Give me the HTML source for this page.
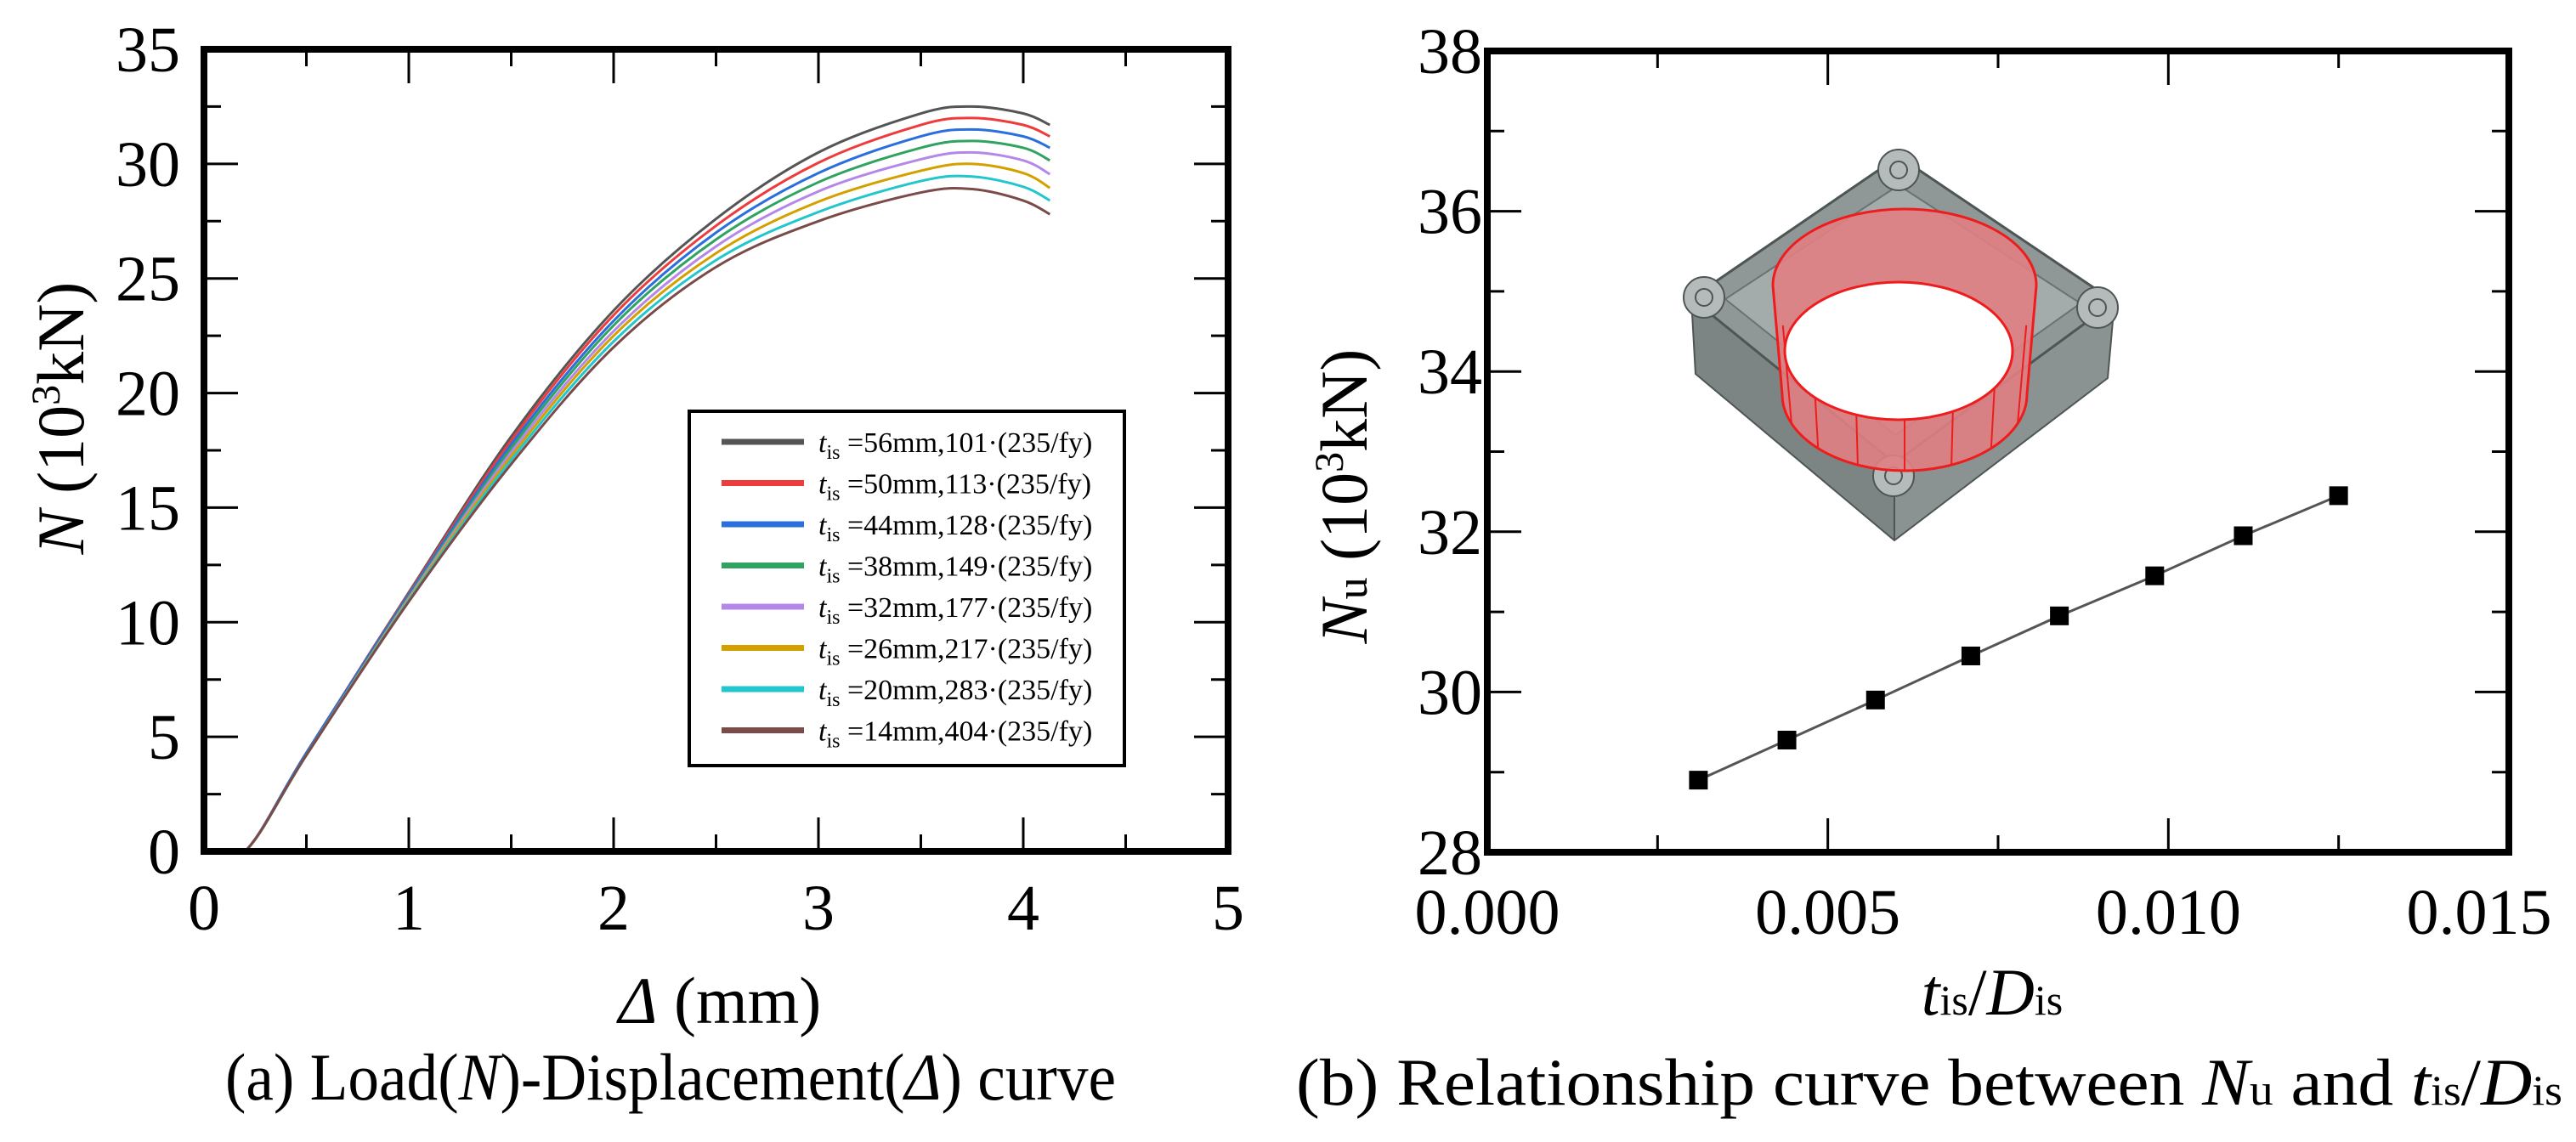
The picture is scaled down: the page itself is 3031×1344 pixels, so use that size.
<!DOCTYPE html>
<html><head><meta charset="utf-8"><style>
body{margin:0;background:#fff}
svg{display:block}
text{font-family:"Liberation Serif",serif;fill:#000}
</style></head><body>
<svg id="s" width="3031" height="1344" viewBox="0 0 3031 1344">
<g id="left"></g>
<g id="right"></g>
</svg>
<script>
// ---- Chart (a) data ----
const dispX = [0,0.2,0.5,1,1.5,2,2.5,3,3.5,3.75,4,4.13];
const s56 = [0,0,4.3,11.3,18.1,23.6,27.6,30.5,32.2,32.5,32.2,31.7];
const s50 = [0,0,4.3,11.25,17.93,23.4,27.3,30.05,31.7,32.0,31.7,31.2];
const s44 = [0,0,4.3,11.2,17.76,23.15,27.0,29.6,31.2,31.5,31.2,30.7];
const s38 = [0,0,4.2,11.1,17.59,22.95,26.7,29.2,30.7,31.0,30.7,30.15];
const s32 = [0,0,4.2,11.05,17.42,22.7,26.4,28.8,30.2,30.5,30.15,29.55];
const s26 = [0,0,4.2,11.0,17.25,22.5,26.1,28.35,29.7,30.0,29.6,28.95];
const s20 = [0,0,4.2,10.95,17.08,22.25,25.8,27.9,29.25,29.45,29.0,28.4];
const s14 = [0,0,4.2,10.9,16.9,22.0,25.5,27.5,28.75,28.9,28.4,27.8];
const seriesA = [s56,s50,s44,s38,s32,s26,s20,s14];
const colorsA = ["#555555","#ee3b3b","#2a6fdc","#2fa35f","#b487e8","#d4a000","#22c6cc","#7a4b48"];
const legendLabels = [["56","101"],["50","113"],["44","128"],["38","149"],["32","177"],["26","217"],["20","283"],["14","404"]];
const xTicksA = [0,1,2,3,4,5];
const yTicksA = [0,5,10,15,20,25,30,35];
// ---- Chart (b) data ----
const ratioX = [0.0031,0.0044,0.0057,0.0071,0.0084,0.0098,0.0111,0.0125];
const nuY = [28.9,29.4,29.9,30.45,30.95,31.45,31.95,32.45];
const xTicksB = ["0.000","0.005","0.010","0.015"];
const yTicksB = [28,30,32,34,36,38];

const NS="http://www.w3.org/2000/svg";
function mk(parent,tag,attrs){const e=document.createElementNS(NS,tag);for(const k in attrs)e.setAttribute(k,attrs[k]);parent.appendChild(e);return e;}

// axes A
const A={x0:240,x1:1445,y0:1002,y1:58};
const ax=v=>A.x0+(v-0)/5*(A.x1-A.x0);
const ay=v=>A.y0-(v/35)*(A.y0-A.y1);
const L=document.getElementById('left');
function smooth(pts){let d=`M${pts[0][0]},${pts[0][1]}`;for(let i=0;i<pts.length-1;i++){const p0=pts[Math.max(0,i-1)],p1=pts[i],p2=pts[i+1],p3=pts[Math.min(pts.length-1,i+2)];
 if(i===0){d+=` L${p2[0]},${p2[1]}`;continue;}
 const c1=[p1[0]+(p2[0]-p0[0])/6,p1[1]+(p2[1]-p0[1])/6],c2=[p2[0]-(p3[0]-p1[0])/6,p2[1]-(p3[1]-p1[1])/6];
 d+=` C${c1[0]},${c1[1]} ${c2[0]},${c2[1]} ${p2[0]},${p2[1]}`;}return d;}
seriesA.forEach((s,i)=>{const p=mk(L,'path',{d:smooth(dispX.map((x,j)=>[ax(x),ay(s[j])])),fill:'none',stroke:colorsA[i],'stroke-width':3});

});
// ticks A
for(let v=0;v<=5;v+=0.5){const len=(v%1===0)?40:20;mk(L,'line',{x1:ax(v),x2:ax(v),y1:A.y0,y2:A.y0-len,stroke:'#000','stroke-width':3});mk(L,'line',{x1:ax(v),x2:ax(v),y1:A.y1,y2:A.y1+len,stroke:'#000','stroke-width':3});}
for(let v=0;v<=35;v+=2.5){const len=(v%5===0)?40:20;mk(L,'line',{x1:A.x0,x2:A.x0+len,y1:ay(v),y2:ay(v),stroke:'#000','stroke-width':3});mk(L,'line',{x1:A.x1,x2:A.x1-len,y1:ay(v),y2:ay(v),stroke:'#000','stroke-width':3});}
const fa=mk(L,'rect',{x:A.x0,y:A.y1,width:A.x1-A.x0,height:A.y0-A.y1,fill:'none',stroke:'#000','stroke-width':8});

xTicksA.forEach(v=>{const t=mk(L,'text',{x:ax(v),y:1094,'font-size':76,'text-anchor':'middle'});t.textContent=v;
});
yTicksA.forEach(v=>{const t=mk(L,'text',{x:212,y:ay(v)+26,'font-size':76,'text-anchor':'end'});t.textContent=v;
});
// legend
const lg=mk(L,'g',{});
mk(lg,'rect',{x:811,y:484,width:512,height:417,fill:'#fff',stroke:'#000','stroke-width':4});
legendLabels.forEach((lab,i)=>{const y=520+i*48.5;
 const ln=mk(lg,'line',{x1:849,x2:946,y1:y,y2:y,stroke:colorsA[i],'stroke-width':7});
 
 const t=mk(lg,'text',{x:963,y:y+12,'font-size':34});
 t.innerHTML=`<tspan font-style="italic">t</tspan><tspan font-size="24" dy="8">is</tspan><tspan dy="-8"> =${lab[0]}mm,${lab[1]}·(235/fy)</tspan>`;
 });

// axes B
const B={x0:1750,x1:2952,y0:1003,y1:60};
const bx=v=>B.x0+v/0.015*(B.x1-B.x0);
const by=v=>B.y0-(v-28)/10*(B.y0-B.y1);
const R=document.getElementById('right');
for(let i=0;i<=6;i++){const v=i*0.0025,len=(i%2===0)?40:20;mk(R,'line',{x1:bx(v),x2:bx(v),y1:B.y0,y2:B.y0-len,stroke:'#000','stroke-width':3});mk(R,'line',{x1:bx(v),x2:bx(v),y1:B.y1,y2:B.y1+len,stroke:'#000','stroke-width':3});}
for(let v=28;v<=38;v+=1){const len=(v%2===0)?40:20;mk(R,'line',{x1:B.x0,x2:B.x0+len,y1:by(v),y2:by(v),stroke:'#000','stroke-width':3});mk(R,'line',{x1:B.x1,x2:B.x1-len,y1:by(v),y2:by(v),stroke:'#000','stroke-width':3});}
// inset model
const ins=mk(R,'g',{});
mk(ins,'polygon',{points:'1990,351 2229,545 2229,636 1995,440',fill:'#7c8484',stroke:'#4e5555','stroke-width':2,'stroke-linejoin':'round'});
mk(ins,'polygon',{points:'2488,355 2229,545 2229,636 2480,445',fill:'#8a9292',stroke:'#4e5555','stroke-width':2,'stroke-linejoin':'round'});
mk(ins,'polygon',{points:'2234,184 2488,355 2229,545 1990,351',fill:'#8f9797',stroke:'#4e5555','stroke-width':3,'stroke-linejoin':'round'});
mk(ins,'polygon',{points:'2234,218 2448,357 2230,512 2030,352',fill:'#a4abab',stroke:'#6a7272','stroke-width':2});
[[2234,200],[2005,350],[2468,362],[2228,560]].forEach(c=>{mk(ins,'circle',{cx:c[0],cy:c[1],r:24,fill:'#b5bbbb',stroke:'#4e5555','stroke-width':2});mk(ins,'circle',{cx:c[0],cy:c[1],r:10,fill:'none',stroke:'#4e5555','stroke-width':2});});
mk(ins,'path',{d:'M2086,336 A155,90 0 0 1 2396,336 L2385,464 A144,90 0 0 1 2097,464 Z',fill:'#e07f84',stroke:'#ee1c1c','stroke-width':3,'fill-opacity':0.9});
for(let k=1;k<8;k++){const t=Math.PI*k/8,x1=2241-155*Math.cos(t),y1=336+90*Math.sin(t)*0.2+40,x2=2241-144*Math.cos(t),y2=464+90*Math.sin(t);mk(ins,'line',{x1:x1,y1:y1,x2:x2,y2:y2,stroke:'#ee1c1c','stroke-width':2});}
mk(ins,'ellipse',{cx:2234,cy:413,rx:134,ry:81,fill:'#fff',stroke:'#ee1c1c','stroke-width':3});
// series B
const ln=mk(R,'polyline',{points:ratioX.map((x,i)=>bx(x)+','+by(nuY[i])).join(' '),fill:'none',stroke:'#555','stroke-width':3});

ratioX.forEach((x,i)=>{const r=mk(R,'rect',{x:bx(x)-11,y:by(nuY[i])-11,width:22,height:22,fill:'#000'});
});
const fb=mk(R,'rect',{x:B.x0,y:B.y1,width:B.x1-B.x0,height:B.y0-B.y1,fill:'none',stroke:'#000','stroke-width':8});

xTicksB.forEach(v=>{const t=mk(R,'text',{x:bx(+v)-(+v===0.015?35:0),y:1099,'font-size':76,'text-anchor':'middle'});t.textContent=v;
});
yTicksB.forEach(v=>{const t=mk(R,'text',{x:1744,y:by(v)+26,'font-size':76,'text-anchor':'end'});t.textContent=v;
});
</script>
<div style="position:absolute;left:0;top:0;width:3031px;height:1344px;pointer-events:none">
<svg width="3031" height="1344" style="position:absolute;left:0;top:0">
<text font-size="78" text-anchor="middle" transform="translate(98,492) rotate(-90)"><tspan font-style="italic">N</tspan> (10<tspan font-size="48" dy="-28">3</tspan><tspan dy="28">kN)</tspan></text>
<text x="847" y="1204" font-size="78" text-anchor="middle"><tspan font-style="italic">Δ</tspan> (mm)</text>
<text x="265" y="1294" font-size="78" textLength="1048" lengthAdjust="spacingAndGlyphs">(a) Load(<tspan font-style="italic">N</tspan>)-Displacement(<tspan font-style="italic">Δ</tspan>) curve</text>
<text font-size="78" text-anchor="middle" transform="translate(1608,584) rotate(-90)"><tspan font-style="italic">N</tspan><tspan font-size="52">u</tspan> (10<tspan font-size="48" dy="-28">3</tspan><tspan dy="28">kN)</tspan></text>
<text x="2344" y="1194" font-size="78" text-anchor="middle"><tspan font-style="italic">t</tspan><tspan font-size="50">is</tspan>/<tspan font-style="italic">D</tspan><tspan font-size="50">is</tspan></text>
<text x="1525" y="1300" font-size="78" textLength="1490" lengthAdjust="spacingAndGlyphs">(b) Relationship curve between <tspan font-style="italic">N</tspan><tspan font-size="52">u</tspan> and <tspan font-style="italic">t</tspan><tspan font-size="50">is</tspan>/<tspan font-style="italic">D</tspan><tspan font-size="50">is</tspan></text>
</svg></div>
</body></html>
